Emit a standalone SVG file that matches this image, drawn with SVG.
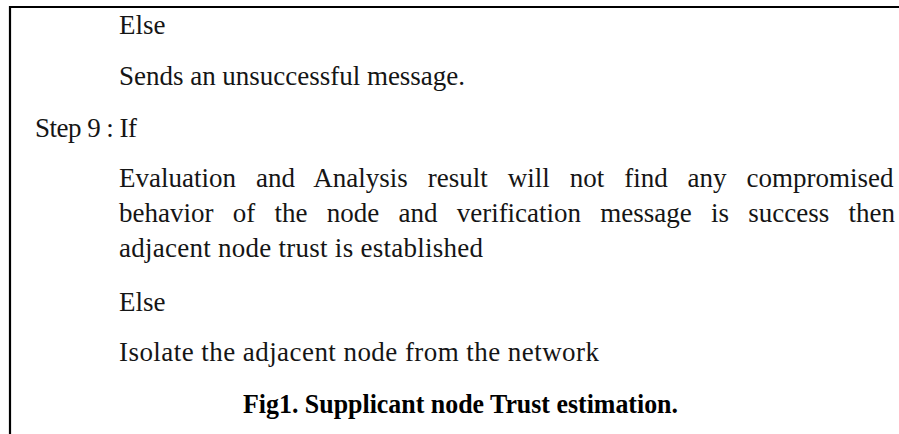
<svg xmlns="http://www.w3.org/2000/svg" width="899" height="434" viewBox="0 0 899 434">
  <style>
    .t { font-family: "Liberation Serif", "Times New Roman", serif; font-size: 27px; fill: #151515; }
    .cap { font-family: "Liberation Serif", "Times New Roman", serif; font-size: 27px; font-weight: bold; fill: #000; }
    .frame { stroke: #000; stroke-width: 2.2; fill: none; }
  </style>
  <rect width="899" height="434" fill="#fff"/>
  <!-- box frame: top and left edges -->
  <path class="frame" d="M10 434 V7 H899"/>

  <text class="t" x="119" y="34">Else</text>
  <text class="t" x="119" y="85" textLength="346" lengthAdjust="spacing">Sends an unsuccessful message.</text>
  <text class="t" x="35" y="137" textLength="102" lengthAdjust="spacing">Step 9 : If</text>

  <!-- justified paragraph: word-spacing stretches each full line to the right edge -->
  <text class="t" x="119" y="187" word-spacing="13.2">Evaluation and Analysis result will not find any compromised</text>
  <text class="t" x="119" y="222" word-spacing="12.5">behavior of the node and verification message is success then</text>
  <text class="t" x="119" y="257" textLength="364" lengthAdjust="spacing">adjacent node trust is established</text>

  <text class="t" x="119" y="311">Else</text>
  <text class="t" x="119" y="361" textLength="480" lengthAdjust="spacing">Isolate the adjacent node from the network</text>

  <text class="cap" x="243" y="413" textLength="435" lengthAdjust="spacingAndGlyphs">Fig1. Supplicant node Trust estimation.</text>
</svg>
